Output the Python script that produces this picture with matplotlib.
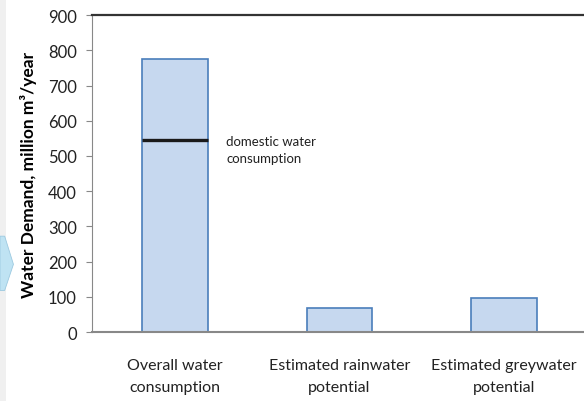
import matplotlib.pyplot as plt
from matplotlib.patches import Polygon, Rectangle

plt.rcParams['font.family'] = ['Lato', 'DejaVu Sans']

categories = ['Overall water\nconsumption', 'Estimated rainwater\npotential', 'Estimated greywater\npotential']
demand = [775, 67, 97]
domestic = 545
y_ticks = [0, 100, 200, 300, 400, 500, 600, 700, 800, 900]

fig = plt.figure(figsize=(5.84, 4.02), dpi=100)
ax = fig.add_axes([0.1575, 0.1716, 0.8425, 0.7884])

x = list(range(len(categories)))
ax.bar(x, demand, width=0.4, color='#c6d8ef', edgecolor='#4a7ebb', linewidth=1.2, zorder=2)

# domestic share drawn across the first bar
ax.hlines(domestic, -0.2, 0.2, color='#1a1a1a', linewidth=2.4, zorder=3)
ax.text(0.31, domestic + 14, 'domestic water\nconsumption', fontsize=9.5, color='#222222',
        ha='left', va='top', linespacing=1.5)

ax.set_xlim(-0.505, 2.486)
ax.set_ylim(0, 900)
ax.set_yticks(y_ticks)
ax.set_yticklabels([str(v) for v in y_ticks], fontsize=12, color='#222222')
ax.set_xticks(x)
ax.set_xticklabels(categories, fontsize=11.5, color='#222222', linespacing=1.65)
ax.tick_params(axis='x', length=0, pad=19)
ax.tick_params(axis='y', length=4, color='#888888', pad=7)

ax.set_ylabel('Water Demand, million m³/year', fontsize=12.5, fontweight='bold', labelpad=8)

ax.spines['right'].set_visible(False)
ax.spines['top'].set_color('#333333')
ax.spines['top'].set_linewidth(1.6)
ax.spines['left'].set_color('#888888')
ax.spines['bottom'].set_color('#888888')
ax.spines['bottom'].set_linewidth(1.5)

# edge of the neighbouring panel on the left
fig.patches.append(Rectangle((0, 0), 0.011, 1, transform=fig.transFigure,
                             facecolor='#f0f0f0', edgecolor='none', zorder=0))
fig.patches.append(Polygon([(0, 0.41), (0.008, 0.41), (0.023, 0.34), (0.008, 0.275), (0, 0.275)],
                           closed=True, transform=fig.transFigure,
                           facecolor='#bfe3f3', edgecolor='#9cc9e0', linewidth=0.6, zorder=1))

fig.savefig('out.png', dpi=100)
